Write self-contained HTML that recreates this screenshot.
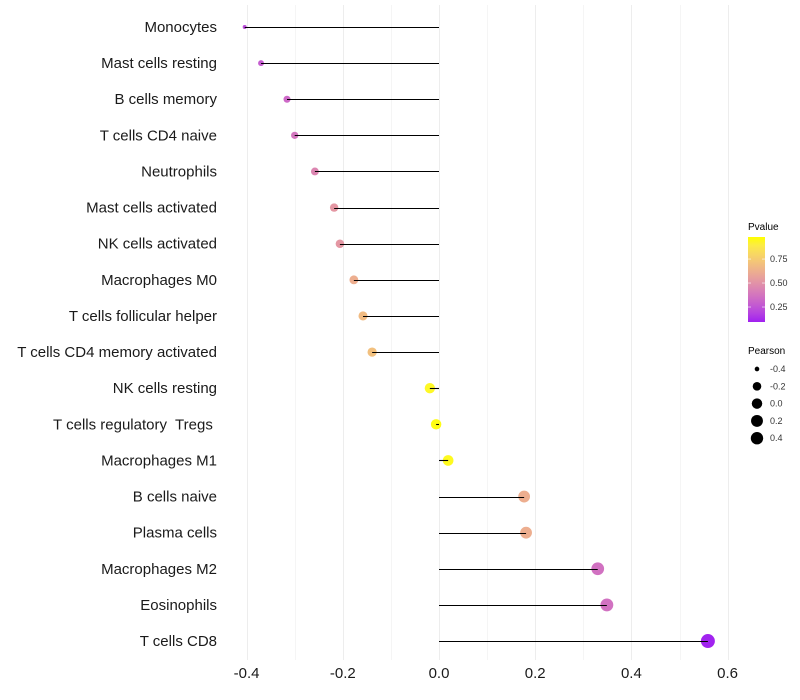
<!DOCTYPE html>
<html><head><meta charset="utf-8"><style>
body{margin:0;background:#fff;font-family:"Liberation Sans",sans-serif}
svg{display:block}
text{white-space:pre}
</style></head><body>
<svg id="c" width="800" height="700" font-family="Liberation Sans, sans-serif">
<defs><linearGradient id="pg" x1="0" y1="1" x2="0" y2="0"></linearGradient></defs>
</svg>
<script>
const categories=["Monocytes","Mast cells resting","B cells memory","T cells CD4 naive","Neutrophils","Mast cells activated","NK cells activated","Macrophages M0","T cells follicular helper","T cells CD4 memory activated","NK cells resting","T cells regulatory  Tregs ","Macrophages M1","B cells naive","Plasma cells","Macrophages M2","Eosinophils","T cells CD8"];
const pearson=[-0.404,-0.37,-0.316,-0.30,-0.258,-0.218,-0.206,-0.177,-0.158,-0.139,-0.019,-0.006,0.019,0.177,0.181,0.33,0.349,0.559];
const pvalue=[0.22,0.28,0.33,0.38,0.45,0.52,0.52,0.62,0.68,0.70,0.95,0.97,0.96,0.62,0.62,0.36,0.36,0.1];
const xTicks=[-0.4,-0.2,0,0.2,0.4,0.6];
const pTicks=[0.25,0.5,0.75];
const sizeTicks=[-0.4,-0.2,0,0.2,0.4];
const NS="http://www.w3.org/2000/svg";
const svg=document.getElementById('c');
function mk(t,a,p){const e=document.createElementNS(NS,t);for(const k in a)e.setAttribute(k,a[k]);(p||svg).appendChild(e);return e;}
const x=v=>439+v*481;
const y=i=>27+i*36.12;
const pMin=0.094,pMax=0.98;
function toLab(h){let c=[1,3,5].map(i=>parseInt(h.substr(i,2),16)/255).map(v=>v>0.04045?Math.pow((v+0.055)/1.055,2.4):v/12.92);
let X=(c[0]*0.4124+c[1]*0.3576+c[2]*0.1805)/0.95047,Y=c[0]*0.2126+c[1]*0.7152+c[2]*0.0722,Z=(c[0]*0.0193+c[1]*0.1192+c[2]*0.9505)/1.08883;
const f=t=>t>0.008856?Math.cbrt(t):7.787*t+16/116;return [116*f(Y)-16,500*(f(X)-f(Y)),200*(f(Y)-f(Z))];}
function fromLab(L){let fy=(L[0]+16)/116,fx=fy+L[1]/500,fz=fy-L[2]/200;const g=t=>t*t*t>0.008856?t*t*t:(t-16/116)/7.787;
let X=g(fx)*0.95047,Y=g(fy),Z=g(fz)*1.08883;let r=X*3.2406-Y*1.5372-Z*0.4986,gg=-X*0.9689+Y*1.8758+Z*0.0415,b=X*0.0557-Y*0.2040+Z*1.0570;
return 'rgb('+[r,gg,b].map(v=>{v=v>0.0031308?1.055*Math.pow(v,1/2.4)-0.055:12.92*v;return Math.round(Math.max(0,Math.min(1,v))*255)}).join(',')+')';}
const lo=toLab('#a020f0'),hi=toLab('#ffff00');
function col(p){let t=Math.max(0,Math.min(1,(p-pMin)/(pMax-pMin)));return fromLab(lo.map((v,i)=>v+(hi[i]-v)*t));}
const sMin=-0.404,sMax=0.559;
function rad(v){const t=Math.max(0,(v-sMin)/(sMax-sMin));return 2+5*Math.sqrt(t);}
for(let k=0;k<=10;k++){const v=-0.4+k*0.1;const xx=Math.round(x(v))+0.5;
const g=mk('line',{x1:xx,x2:xx,y1:5,y2:660,stroke:k%2===0?'#ededed':'#f5f5f5','stroke-width':1});
}
categories.forEach((c,i)=>{
const t=mk('text',{x:217,y:y(i)+5,'text-anchor':'end','font-size':15,fill:'#1a1a1a'});t.textContent=c;

const d=mk('circle',{cx:x(pearson[i]),cy:y(i),r:rad(pearson[i]),fill:col(pvalue[i])});

const s=mk('line',{x1:x(0),x2:x(pearson[i]),y1:Math.round(y(i))+0.5,y2:Math.round(y(i))+0.5,stroke:'#000','stroke-width':1.1});

});
xTicks.forEach(v=>{const t=mk('text',{x:x(v),y:678,'text-anchor':'middle','font-size':15,fill:'#1a1a1a'});t.textContent=v.toFixed(1);
});
const grad=document.getElementById('pg');
for(let k=0;k<=10;k++){const p=pMin+(pMax-pMin)*k/10;mk('stop',{offset:k/10,'stop-color':col(p)},grad);}
const lt=mk('text',{x:748,y:230,'font-size':10,fill:'#000'});lt.textContent='Pvalue';

const bar=mk('rect',{x:748,y:237,width:17,height:85,fill:'url(#pg)'});

const py=p=>322-(p-pMin)/(pMax-pMin)*85;
pTicks.forEach(p=>{const t=mk('text',{x:770,y:py(p)+3,'font-size':9,fill:'#333'});t.textContent=p.toFixed(2);

mk('line',{x1:748,x2:751,y1:py(p),y2:py(p),stroke:'#fff','stroke-opacity':0.6});mk('line',{x1:762,x2:765,y1:py(p),y2:py(p),stroke:'#fff','stroke-opacity':0.6});});
const st=mk('text',{x:748,y:354,'font-size':10,fill:'#000'});st.textContent='Pearson';

sizeTicks.forEach((v,k)=>{const cy=369+k*17.3;const c=mk('circle',{cx:757,cy:cy,r:Math.min(rad(v),6.2),fill:'#000'});

const t=mk('text',{x:770,y:cy+3,'font-size':9,fill:'#333'});t.textContent=v.toFixed(1);
});
</script>
</body></html>
